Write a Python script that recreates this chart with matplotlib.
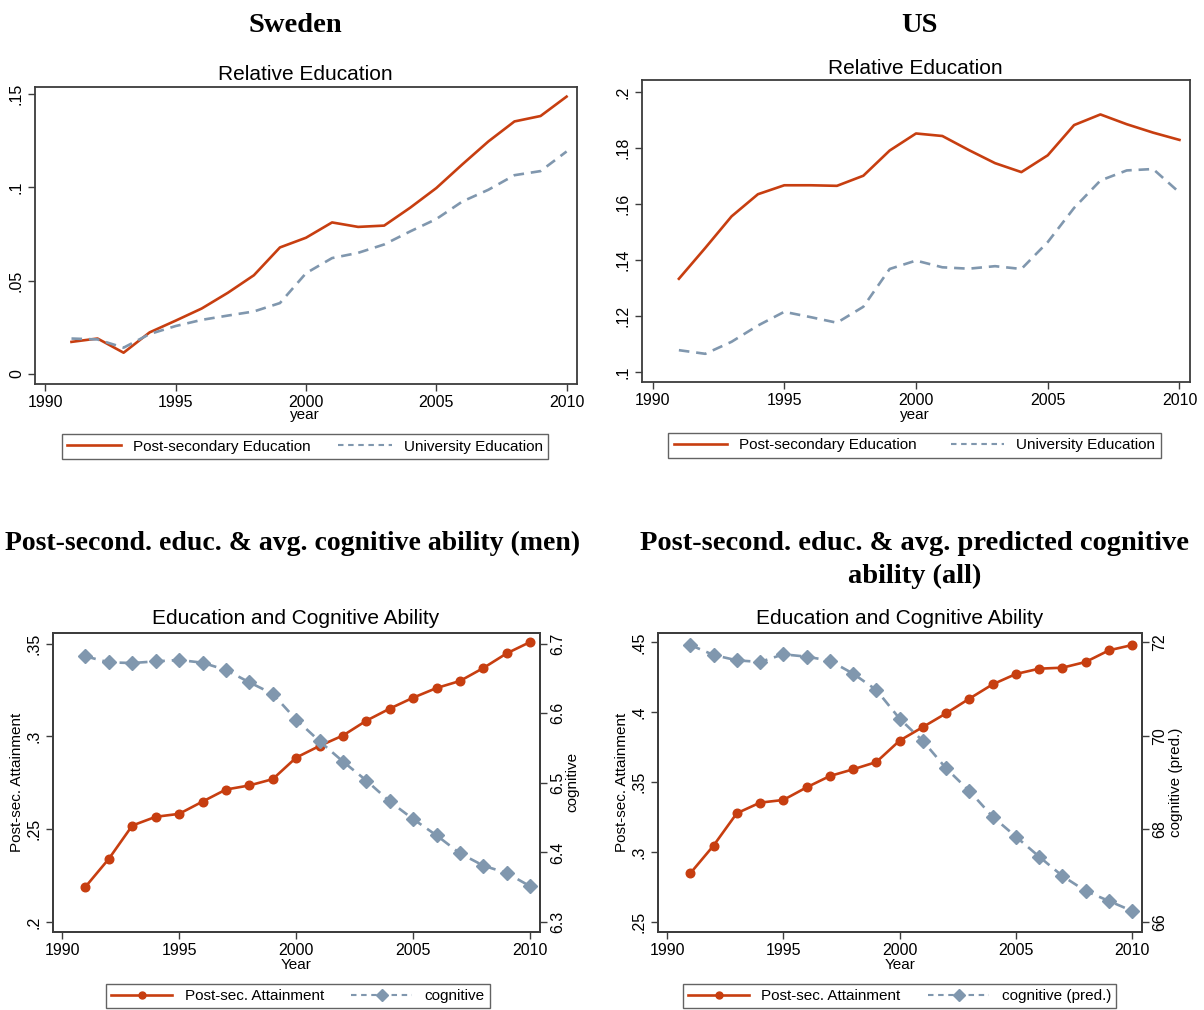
import matplotlib
matplotlib.use('Agg')
import matplotlib.pyplot as plt
from matplotlib.lines import Line2D

# ---------------- data ----------------
years = list(range(1991, 2011))

swe_post = [0.0172, 0.0190, 0.0114, 0.0223, 0.0286, 0.0351, 0.0435, 0.0529, 0.0678, 0.0730,
            0.0812, 0.0788, 0.0795, 0.0891, 0.0996, 0.1123, 0.1246, 0.1353, 0.1382, 0.1486]
swe_univ = [0.0190, 0.0185, 0.0141, 0.0214, 0.0257, 0.0290, 0.0313, 0.0335, 0.0380, 0.0540,
            0.0621, 0.0649, 0.0694, 0.0764, 0.0830, 0.0924, 0.0987, 0.1065, 0.1087, 0.1192]

us_post = [0.1333, 0.1443, 0.1556, 0.1635, 0.1667, 0.1667, 0.1665, 0.1701, 0.1791, 0.1852,
           0.1843, 0.1793, 0.1746, 0.1714, 0.1774, 0.1882, 0.1920, 0.1885, 0.1855, 0.1829]
us_univ = [0.1078, 0.1065, 0.1108, 0.1166, 0.1215, 0.1196, 0.1176, 0.1233, 0.1368, 0.1398,
           0.1374, 0.1369, 0.1378, 0.1368, 0.1464, 0.1586, 0.1684, 0.1720, 0.1725, 0.1641]

men_attain = [0.2190, 0.2341, 0.2520, 0.2567, 0.2583, 0.2649, 0.2714, 0.2736, 0.2770, 0.2886,
              0.2949, 0.3005, 0.3085, 0.3150, 0.3209, 0.3261, 0.3299, 0.3369, 0.3448, 0.3509]
men_cog = [6.6818, 6.6732, 6.6722, 6.6746, 6.6766, 6.6727, 6.6622, 6.6445, 6.6278, 6.5909,
           6.5598, 6.5306, 6.5033, 6.4732, 6.4478, 6.4244, 6.3986, 6.3809, 6.3703, 6.3512]

all_attain = [0.2850, 0.3048, 0.3279, 0.3355, 0.3374, 0.3464, 0.3545, 0.3593, 0.3645, 0.3798,
              0.3895, 0.3993, 0.4098, 0.4200, 0.4274, 0.4312, 0.4319, 0.4360, 0.4443, 0.4481]
all_cog = [71.943, 71.729, 71.614, 71.579, 71.743, 71.693, 71.607, 71.329, 70.979, 70.364,
           69.886, 69.300, 68.814, 68.264, 67.836, 67.407, 66.993, 66.671, 66.457, 66.243]

xticks = [1990, 1995, 2000, 2005, 2010]
swe_yticks = [0, 0.05, 0.10, 0.15]
swe_ylabels = ['0', '.05', '.1', '.15']
us_yticks = [0.10, 0.12, 0.14, 0.16, 0.18, 0.20]
us_ylabels = ['.1', '.12', '.14', '.16', '.18', '.2']
men_yticks = [0.20, 0.25, 0.30, 0.35]
men_ylabels = ['.2', '.25', '.3', '.35']
men_rticks = [6.3, 6.4, 6.5, 6.6, 6.7]
men_rlabels = ['6.3', '6.4', '6.5', '6.6', '6.7']
all_yticks = [0.25, 0.30, 0.35, 0.40, 0.45]
all_ylabels = ['.25', '.3', '.35', '.4', '.45']
all_rticks = [66, 68, 70, 72]
all_rlabels = ['66', '68', '70', '72']

# ---------------- style ----------------
W, H = 1204, 1010
RED = '#C73E10'
BLUE = '#8097AE'
SPINE = '#3c3c3c'
SANS = 'Liberation Sans'
SERIF = 'Liberation Serif'
plt.rcParams['font.family'] = [SANS, 'DejaVu Sans']

fig = plt.figure(figsize=(W / 100, H / 100), dpi=100)
fig.patch.set_facecolor('white')


def rect(l, t, r, b):
    return [l / W, 1 - b / H, (r - l) / W, (b - t) / H]


def style(ax, yticks, ylabels):
    for s in ax.spines.values():
        s.set_color(SPINE)
        s.set_linewidth(1.3)
    ax.tick_params(direction='out', length=5, width=1.0, color=SPINE,
                   labelsize=11.5, pad=3, labelcolor='black')
    ax.set_xticks(xticks)
    ax.set_xticklabels([str(t) for t in xticks])
    ax.set_yticks(yticks)
    ax.set_yticklabels(ylabels, rotation=90, va='center')
    ax.set_xlim(1989.6, 2010.4)


def legend(handles, labels, cx, cy, hl, cs=1.8):
    leg = fig.legend(handles, labels, loc='center', bbox_to_anchor=(cx / W, 1 - cy / H),
                     ncol=2, frameon=True, fancybox=False, edgecolor=SPINE, fontsize=11,
                     handlelength=hl, handletextpad=0.8, columnspacing=cs,
                     borderpad=0.35, borderaxespad=0)
    leg.get_frame().set_linewidth(1.0)
    return leg


def txt(x, y, s, size, serif=False, bold=False, **kw):
    fig.text(x / W, 1 - y / H, s, ha='center', va='center', fontsize=size,
             family=[SERIF, 'DejaVu Serif'] if serif else [SANS, 'DejaVu Sans'],
             fontweight='bold' if bold else 'normal', **kw)


LW = 1.9
dash = (4, 2.6)
ldash = (2.6, 2.2)

# ---------------- panel 1: Sweden ----------------
ax1 = fig.add_axes(rect(35, 87, 577, 384))
ax1.plot(years, swe_post, color=RED, lw=LW, solid_joinstyle='round')
ax1.plot(years, swe_univ, color=BLUE, lw=LW, ls=(0, dash))
style(ax1, swe_yticks, swe_ylabels)
ax1.set_ylim(-0.00536, 0.15375)
txt(295, 25, 'Sweden', 20.5, serif=True, bold=True)
txt(305, 74, 'Relative Education', 15)
txt(305, 415, 'year', 11)

# ---------------- panel 2: US ----------------
ax2 = fig.add_axes(rect(642, 80, 1190, 382))
ax2.plot(years, us_post, color=RED, lw=LW, solid_joinstyle='round')
ax2.plot(years, us_univ, color=BLUE, lw=LW, ls=(0, dash))
style(ax2, us_yticks, us_ylabels)
ax2.set_ylim(0.09643, 0.2043)
txt(920, 25, 'US', 20.5, serif=True, bold=True)
txt(915, 68, 'Relative Education', 15)
txt(915, 415, 'year', 11)

h_post = Line2D([], [], color=RED, lw=LW)
h_univ = Line2D([], [], color=BLUE, lw=LW * 0.8, ls=(0, ldash))
legend([h_post, h_univ], ['Post-secondary Education', 'University Education'], 305, 446.5, 3.5, 1.8)
legend([h_post, h_univ], ['Post-secondary Education', 'University Education'], 914.5, 445.5, 3.5, 2.2)

# ---------------- panel 3: men ----------------
ax3 = fig.add_axes(rect(52.7, 632.7, 539.6, 931.7))
ax3.plot(years, men_attain, color=RED, lw=LW, marker='o', markersize=6.2)
style(ax3, men_yticks, men_ylabels)
ax3.set_ylim(0.1948, 0.3559)
ax3b = ax3.twinx()
ax3b.plot(years, men_cog, color=BLUE, lw=LW, ls=(0, dash), marker='D', markersize=7.2)
style(ax3b, men_rticks, men_rlabels)
ax3b.set_ylim(6.286, 6.7158)
ax3.set_xlim(1989.6, 2010.4)
txt(293, 543, 'Post-second. educ. & avg. cognitive ability (men)', 20, serif=True, bold=True)
txt(296, 618, 'Education and Cognitive Ability', 15)
txt(296, 965, 'Year', 11)
txt(17, 782, 'Post-sec. Attainment', 11, rotation=90)
txt(572, 782, 'cognitive', 11, rotation=90)

# ---------------- panel 4: all ----------------
ax4 = fig.add_axes(rect(657.7, 632.7, 1141.5, 931.7))
ax4.plot(years, all_attain, color=RED, lw=LW, marker='o', markersize=6.2)
style(ax4, all_yticks, all_ylabels)
ax4.set_ylim(0.2433, 0.4569)
ax4b = ax4.twinx()
ax4b.plot(years, all_cog, color=BLUE, lw=LW, ls=(0, dash), marker='D', markersize=7.2)
style(ax4b, all_rticks, all_rlabels)
ax4b.set_ylim(65.799, 72.206)
ax4.set_xlim(1989.6, 2010.4)
txt(915, 543, 'Post-second. educ. & avg. predicted cognitive', 20.5, serif=True, bold=True)
txt(915, 576, 'ability (all)', 20.5, serif=True, bold=True)
txt(900, 618, 'Education and Cognitive Ability', 15)
txt(900, 965, 'Year', 11)
txt(622, 782, 'Post-sec. Attainment', 11, rotation=90)
txt(1176, 782, 'cognitive (pred.)', 11, rotation=90)

h_att = Line2D([], [], color=RED, lw=LW, marker='o', markersize=5)
h_cog = Line2D([], [], color=BLUE, lw=LW * 0.8, ls=(0, ldash), marker='D', markersize=6)
legend([h_att, h_cog], ['Post-sec. Attainment', 'cognitive'], 298, 996, 4.0)
legend([h_att, h_cog], ['Post-sec. Attainment', 'cognitive (pred.)'], 899.5, 996, 4.0)

fig.savefig('out.png', dpi=100, facecolor='white')
